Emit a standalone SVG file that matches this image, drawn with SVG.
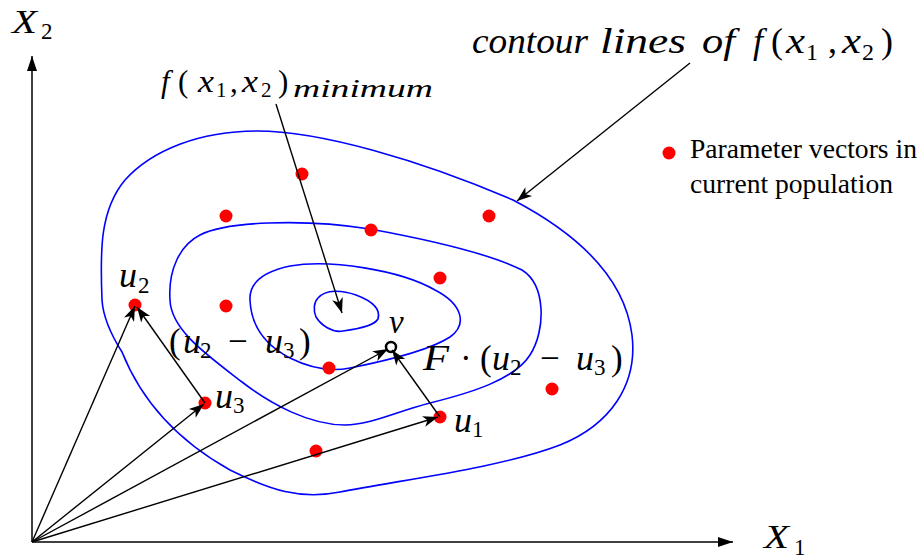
<svg xmlns="http://www.w3.org/2000/svg" width="922" height="560" viewBox="0 0 922 560">
<style>
.ct{fill:none;stroke:#0000ff;stroke-width:1.6}
.ar{fill:none;stroke:#000;stroke-width:1.4;marker-end:url(#ah)}
.dot{fill:#ff0000}
</style>
<defs>
<marker id="ah" viewBox="-16 -7 17 14" refX="0" refY="0" markerWidth="17" markerHeight="14" orient="auto" markerUnits="userSpaceOnUse">
<path d="M0,0 L-15,-5.5 L-11,0 L-15,5.5 Z" fill="#000"/>
</marker>
<marker id="ax" viewBox="-16 -7 17 14" refX="0" refY="0" markerWidth="17" markerHeight="14" orient="auto" markerUnits="userSpaceOnUse">
<path d="M0,0 L-15,-5 L-15,5 Z" fill="#000"/>
</marker>
</defs>

<g id="axes">
<line x1="32" y1="542" x2="32" y2="56" stroke="#000" stroke-width="1.5" marker-end="url(#ax)"/>
<line x1="32" y1="542" x2="733" y2="542" stroke="#404040" stroke-width="2.2" marker-end="url(#ax)"/>
</g>

<g id="contours">
<path class="ct" d="M318,298 C326,289 342,290 356,295 C372,301 381,309 378,319 C374,326 358,329 343,331 C332,333 321,325 316,317 C313,310 314,302 318,298 Z"/>
<path class="ct" d="M250,300 C249,283 262,272 290,266 C330,259 400,270 435,290 C462,304 468,324 450,337 C430,350 390,360 350,368 C330,372 310,368 290,358 C263,344 251,325 250,300 Z"/>
<path class="ct" d="M170,300 C168,270 180,245 200,235 C225,222 300,218 370,229 C430,240 490,254 522,270 C546,285 546,330 530,355 C514,380 470,393 430,403 C395,412 370,425 345,425 C310,425 272,405 242,382 C207,355 171,330 170,300 Z"/>
<path class="ct" d="M102,300 C100,250 100,210 125,180 C152,150 200,131 257,131 C320,131 420,160 513,200 C580,235 625,280 632,335 C638,385 610,425 560,445 C500,468 400,480 340,492 C300,500 270,490 230,470 C180,442 142,402 122,352 C108,330 103,315 102,300 Z"/>
</g>

<g id="population">
<circle class="dot" cx="302" cy="174" r="6.5"/>
<circle class="dot" cx="226" cy="216" r="6.5"/>
<circle class="dot" cx="371" cy="230" r="6.5"/>
<circle class="dot" cx="489" cy="216" r="6.5"/>
<circle class="dot" cx="440" cy="278" r="6.5"/>
<circle class="dot" cx="226" cy="306" r="6.5"/>
<circle class="dot" cx="329" cy="368" r="6.5"/>
<circle class="dot" cx="316" cy="451" r="6.5"/>
<circle class="dot" cx="552" cy="389" r="6.5"/>
</g>

<g font-family="Liberation Serif, Times New Roman, serif" fill="#000">
<g id="axis-labels">
<text x="12" y="33" font-size="34" font-style="italic" textLength="25" lengthAdjust="spacingAndGlyphs">X</text>
<text x="41" y="39" font-size="23">2</text>
<text x="764" y="548" font-size="34" font-style="italic" textLength="25" lengthAdjust="spacingAndGlyphs">X</text>
<text x="794" y="555" font-size="23">1</text>
</g>

<g id="u2">
<circle class="dot" cx="135" cy="305" r="6.5"/>
<text x="119" y="287" font-size="35" font-style="italic" textLength="18" lengthAdjust="spacingAndGlyphs">u</text>
<text x="138" y="293" font-size="23">2</text>
</g>
<g id="u3">
<circle class="dot" cx="205" cy="403" r="6.5"/>
<text x="215" y="408" font-size="35" font-style="italic" textLength="18" lengthAdjust="spacingAndGlyphs">u</text>
<text x="233" y="413" font-size="23">3</text>
</g>
<g id="u1">
<circle class="dot" cx="440" cy="417" r="6.5"/>
<text x="454" y="432" font-size="35" font-style="italic" textLength="18" lengthAdjust="spacingAndGlyphs">u</text>
<text x="472" y="437" font-size="23">1</text>
</g>
<g id="v">
<circle cx="391" cy="347" r="5" fill="none" stroke="#000" stroke-width="2.5"/>
<text x="389" y="333" font-size="33" font-style="italic">v</text>
</g>

<g id="label-diff">
<text x="169" y="353" font-size="35">(</text>
<text x="183" y="353" font-size="35" font-style="italic" textLength="18" lengthAdjust="spacingAndGlyphs">u</text>
<text x="200" y="358" font-size="23">2</text>
<text x="228" y="353" font-size="35">−</text>
<text x="265" y="353" font-size="35" font-style="italic" textLength="18" lengthAdjust="spacingAndGlyphs">u</text>
<text x="283" y="358" font-size="23">3</text>
<text x="299" y="353" font-size="35">)</text>
</g>

<g id="label-Fdiff">
<text x="423" y="370" font-size="35" font-style="italic" textLength="26" lengthAdjust="spacingAndGlyphs">F</text>
<text x="460" y="370" font-size="35">·</text>
<text x="480" y="370" font-size="35">(</text>
<text x="492" y="370" font-size="35" font-style="italic" textLength="18" lengthAdjust="spacingAndGlyphs">u</text>
<text x="510" y="375" font-size="23">2</text>
<text x="540" y="370" font-size="35">−</text>
<text x="576" y="370" font-size="35" font-style="italic" textLength="18" lengthAdjust="spacingAndGlyphs">u</text>
<text x="594" y="375" font-size="23">3</text>
<text x="611" y="370" font-size="35">)</text>
</g>

<g id="label-min">
<text x="161" y="92" font-size="31" font-style="italic">f</text>
<text x="178" y="92" font-size="31">(</text>
<text x="198" y="92" font-size="31" font-style="italic" textLength="16" lengthAdjust="spacingAndGlyphs">x</text>
<text x="216" y="97" font-size="21">1</text>
<text x="230" y="92" font-size="31">,</text>
<text x="242" y="92" font-size="31" font-style="italic" textLength="16" lengthAdjust="spacingAndGlyphs">x</text>
<text x="261" y="97" font-size="21">2</text>
<text x="278" y="92" font-size="31">)</text>
<text x="293" y="97" font-size="26" font-style="italic" textLength="140" lengthAdjust="spacingAndGlyphs">minimum</text>
</g>

<g id="label-contour">
<text x="472" y="53" font-size="36" font-style="italic" textLength="116" lengthAdjust="spacingAndGlyphs">contour</text>
<text x="600" y="53" font-size="36" font-style="italic" textLength="86" lengthAdjust="spacingAndGlyphs">lines</text>
<text x="702" y="53" font-size="36" font-style="italic" textLength="33" lengthAdjust="spacingAndGlyphs">of</text>
<text x="753" y="53" font-size="36" font-style="italic">f</text>
<text x="771" y="53" font-size="36">(</text>
<text x="786" y="53" font-size="36" font-style="italic" textLength="19" lengthAdjust="spacingAndGlyphs">x</text>
<text x="806" y="60" font-size="24">1</text>
<text x="828" y="53" font-size="36">,</text>
<text x="842" y="53" font-size="36" font-style="italic" textLength="19" lengthAdjust="spacingAndGlyphs">x</text>
<text x="862" y="60" font-size="24">2</text>
<text x="881" y="53" font-size="36">)</text>
</g>

<g id="legend">
<circle class="dot" cx="669" cy="153" r="6.5"/>
<text x="690" y="158" font-size="27.5" textLength="227" lengthAdjust="spacingAndGlyphs">Parameter vectors in</text>
<text x="690" y="193" font-size="27.5" textLength="203" lengthAdjust="spacingAndGlyphs">current population</text>
</g>
</g>

<g id="connectors">
<line class="ar" x1="32" y1="542" x2="135" y2="306"/>
<line class="ar" x1="32" y1="542" x2="204" y2="404"/>
<line class="ar" x1="32" y1="542" x2="388" y2="349"/>
<line class="ar" x1="32" y1="542" x2="438" y2="417"/>
<line class="ar" x1="205" y1="403" x2="137" y2="307"/>
<line class="ar" x1="440" y1="417" x2="392" y2="350"/>
<line class="ar" x1="276" y1="104" x2="342" y2="313"/>
<line class="ar" x1="690" y1="63" x2="517" y2="201"/>
</g>
</svg>
